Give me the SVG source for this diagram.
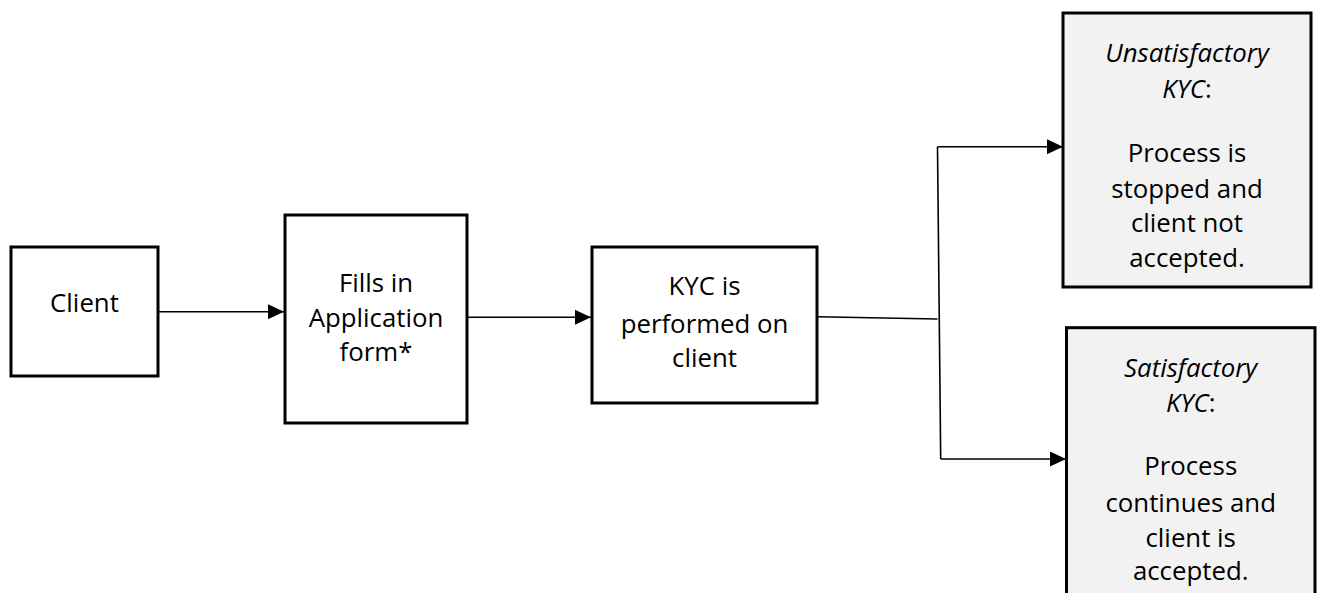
<svg xmlns="http://www.w3.org/2000/svg" width="1319" height="593" viewBox="0 0 1319 593">
  <style>
    .box { fill: #ffffff; stroke: #000000; stroke-width: 3; }
    .box.alt { fill: #f2f2f2; }
    .lbl { font-family: "Open Sans", "Noto Sans", "DejaVu Sans", sans-serif; font-size: 25.8px; fill: #000000; text-anchor: middle; }
    .it { font-style: italic; }
    .wire { fill: none; stroke: #000000; stroke-width: 1.6; }
  </style>
  <defs>
    <marker id="head" markerUnits="userSpaceOnUse" markerWidth="16" markerHeight="15" refX="16" refY="7.5" orient="auto">
      <path d="M0,0 L16,7.5 L0,15 z" fill="#000000"/>
    </marker>
  </defs>
  <rect width="1319" height="593" fill="#ffffff"/>

  <!-- connectors -->
  <g id="connectors">
    <line class="wire" x1="158" y1="311.7" x2="284" y2="311.7" marker-end="url(#head)"/>
    <line class="wire" x1="467" y1="317.3" x2="591" y2="317.3" marker-end="url(#head)"/>
    <polyline class="wire" points="817,316.7 937.5,319"/>
    <line class="wire" x1="937.5" y1="146.7" x2="940.7" y2="459"/>
    <line class="wire" x1="937.5" y1="146.7" x2="1063" y2="146.7" marker-end="url(#head)"/>
    <line class="wire" x1="940.7" y1="459" x2="1066" y2="459" marker-end="url(#head)"/>
  </g>

  <!-- client -->
  <g id="client">
    <rect class="box" x="11" y="247" width="147" height="129"/>
    <text class="lbl" x="84.5" y="311.7">Client</text>
  </g>

  <!-- application form -->
  <g id="application">
    <rect class="box" x="285" y="215" width="182" height="208"/>
    <text class="lbl" x="376" y="291.7">Fills in</text>
    <text class="lbl" x="376" y="326.7">Application</text>
    <text class="lbl" x="376" y="360.5">form*</text>
  </g>

  <!-- kyc check -->
  <g id="kyc">
    <rect class="box" x="592" y="247" width="225" height="156"/>
    <text class="lbl" x="704.5" y="295">KYC is</text>
    <text class="lbl" x="704.5" y="332.5">performed on</text>
    <text class="lbl" x="704.5" y="367.3">client</text>
  </g>

  <!-- unsatisfactory outcome -->
  <g id="unsatisfactory">
    <rect class="box alt" x="1063" y="13" width="248" height="274"/>
    <text class="lbl" x="1187" y="61.7"><tspan class="it">Unsatisfactory</tspan></text>
    <text class="lbl" x="1187" y="98.3"><tspan class="it">KYC</tspan>:</text>
    <text class="lbl" x="1187" y="161.7">Process is</text>
    <text class="lbl" x="1187" y="197.5">stopped and</text>
    <text class="lbl" x="1187" y="232.3">client not</text>
    <text class="lbl" x="1187" y="266.5">accepted.</text>
  </g>

  <!-- satisfactory outcome -->
  <g id="satisfactory">
    <rect class="box alt" x="1066.5" y="327.7" width="248.5" height="280"/>
    <text class="lbl" x="1190.7" y="376.7"><tspan class="it">Satisfactory</tspan></text>
    <text class="lbl" x="1190.7" y="412.3"><tspan class="it">KYC</tspan>:</text>
    <text class="lbl" x="1190.7" y="475">Process</text>
    <text class="lbl" x="1190.7" y="512">continues and</text>
    <text class="lbl" x="1190.7" y="546.5">client is</text>
    <text class="lbl" x="1190.7" y="580">accepted.</text>
  </g>
</svg>
